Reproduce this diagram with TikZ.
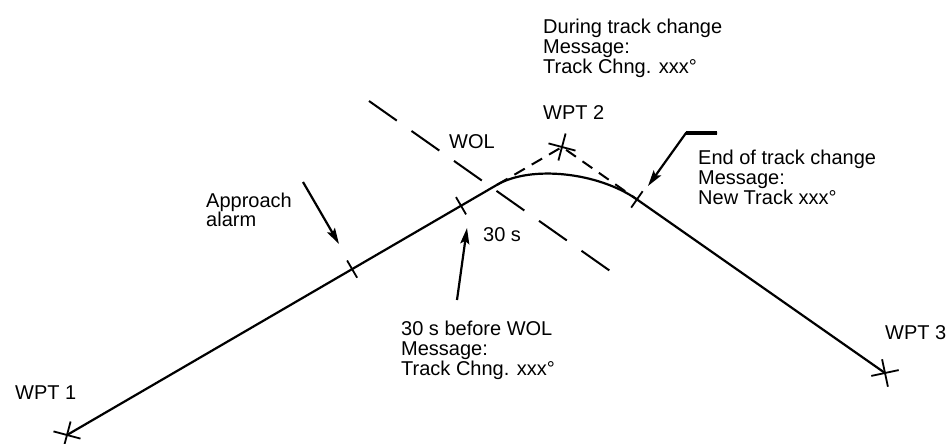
\documentclass[tikz,border=0pt]{standalone}
\usepackage{fontspec}
\setmainfont{Liberation Sans}
\usepackage{tikz}
\usetikzlibrary{arrows.meta,calc,shapes.misc}

\begin{document}
\begin{tikzpicture}[
    x=1pt, y=-1pt,
    >={Stealth[length=16pt,width=9pt,inset=3pt]},
    leg/.style={line width=2.2pt},
    wpt/.style={draw, cross out, line width=1.8pt, minimum size=18pt, inner sep=0pt},
    lbl/.style={font=\fontsize{20}{20}\selectfont, align=left, inner sep=0pt, anchor=west},
    ptr/.style={->, line width=2.2pt},
    tickmark/.style={line width=1.8pt},
    wol/.style={line width=2pt, dash pattern=on 34pt off 18pt},
    tangent/.style={line width=2pt, dash pattern=on 12pt off 8pt},
  ]
  \useasboundingbox (0,0) rectangle (951,444);

  % --- waypoints ---
  \node[wpt, rotate=30] (wpt1) at (67,435) {};
  \node[wpt, rotate=30] (wpt2) at (562,147) {};
  \node[wpt, rotate=57] (wpt3) at (885,373) {};

  % --- points on the track ---
  \coordinate (alarm) at ($(wpt1.center)!0.576!(wpt2.center)$);
  \coordinate (pre)   at ($(wpt1.center)!0.796!(wpt2.center)$);
  \coordinate (tcs)   at ($(wpt1.center)!0.869!(wpt2.center)$);
  \coordinate (tce)   at ($(wpt2.center)!0.232!(wpt3.center)$);
  \coordinate (c1)    at ($(tcs)!0.52!(wpt2.center)$);
  \coordinate (c2)    at ($(tce)!0.52!(wpt2.center)$);

  % --- track with turn ---
  \draw[leg] (wpt1.center) -- (tcs) .. controls (c1) and (c2) .. (tce) -- (wpt3.center);
  \draw[tangent] (tcs) -- (wpt2.center) -- (tce);

  % --- ticks ---
  \foreach \p/\q in {alarm/wpt2.center, pre/wpt2.center, tce/wpt3.center}
    \draw[tickmark] ($(\p)!10pt!90:(\q)$) -- ($(\p)!10pt!-90:(\q)$);

  % --- wheel-over line ---
  \coordinate (wolN) at (369,101);
  \coordinate (wolS) at (613,273);
  \draw[wol] (wolN) -- (wolS);

  % --- labels ---
  \node[lbl] (lw1) at (15,393) {WPT 1};
  \node[lbl] (lw2) at (543,113) {WPT 2};
  \node[lbl] (lw3) at (885,333) {WPT 3};
  \node[lbl] (lwol) at (449,142) {WOL};
  \node[lbl] (l30) at (483,235) {30 s};
  \node[lbl, font=\fontsize{20}{18}\selectfont] (lalarm) at (206,210) {Approach\\alarm};
  \node[lbl] (lduring) at (543,48) {During track change\\Message:\\Track Chng. xxx°};
  \node[lbl] (lend) at (698,177) {End of track change\\Message:\\New Track xxx°};
  \node[lbl] (lpre) at (401,350) {30 s before WOL\\Message:\\Track Chng. xxx°};

  % --- pointers ---
  \coordinate (alarmTail) at (303,182);
  \coordinate (alarmTip)  at (339,244);
  \coordinate (preTail)   at (457,300);
  \coordinate (preTip)    at (467,228);
  \coordinate (endBar)    at (717,133);
  \coordinate (endKnee)   at (686,133);
  \coordinate (endTip)    at (648,186);
  \draw[ptr] (alarmTail) -- (alarmTip);
  \draw[ptr] (preTail) -- (preTip);
  \draw[ptr] (endBar) -- (endKnee) -- (endTip);
  \draw[line width=3.8pt] (endBar) -- (endKnee);

\end{tikzpicture}
\end{document}
